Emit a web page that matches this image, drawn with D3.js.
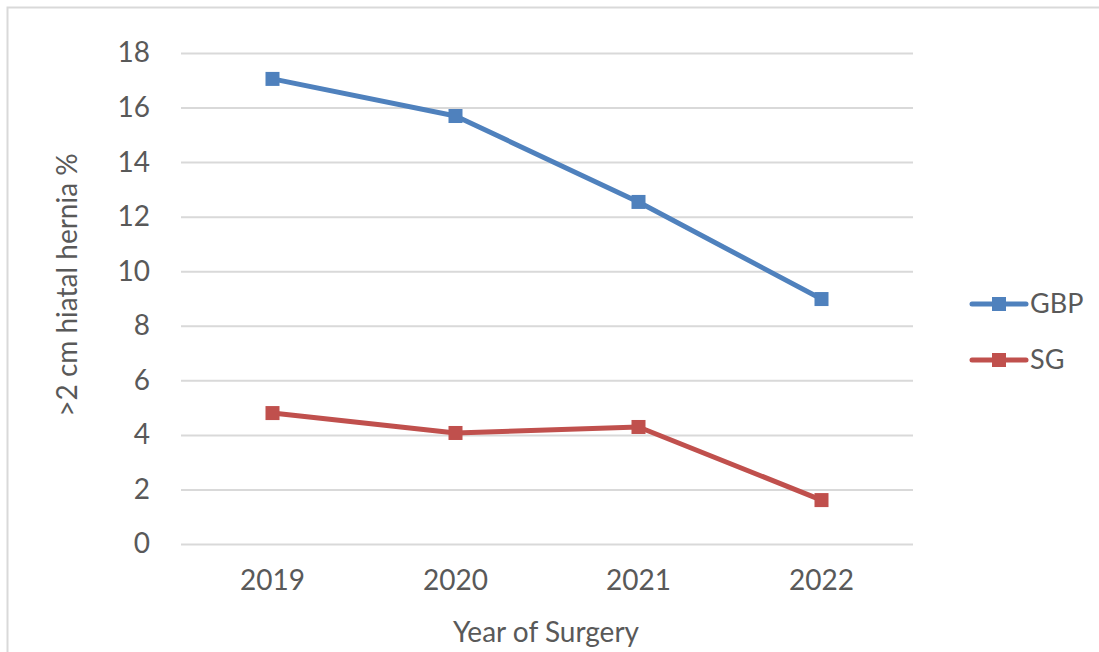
<!DOCTYPE html>
<html>
<head>
<meta charset="utf-8">
<script src="https://cdn.jsdelivr.net/npm/d3@7"></script>
<style>
  html, body { margin: 0; padding: 0; background: #fff; }
  svg { display: block; font-family: Lato, "Open Sans", sans-serif; }
</style>
</head>
<body>
<svg id="chart" width="1099" height="652"></svg>
<script>
// Share of patients with a >2 cm hiatal hernia, by year of surgery
const years = ["2019", "2020", "2021", "2022"];
const gbpValues = [17.05, 15.69, 12.54, 8.98];
const sgValues = [4.80, 4.07, 4.29, 1.61];
const seriesNames = ["GBP", "SG"];
const seriesColors = ["#4F81BD", "#C0504D"];
const yTicks = [0, 2, 4, 6, 8, 10, 12, 14, 16, 18];

const series = [
  { name: seriesNames[0], values: gbpValues, color: seriesColors[0] },
  { name: seriesNames[1], values: sgValues, color: seriesColors[1] }
];

const svg = d3.select("#chart");
const plot = { left: 181, right: 913, top: 53, bottom: 544 };
const fontSize = "28px";

// Outer chart frame
svg.append("rect")
  .attr("x", 7.5).attr("y", 7.5)
  .attr("width", 1200).attr("height", 700)
  .attr("fill", "none").attr("stroke", "#D9D9D9").attr("stroke-width", 2);

const x = d3.scaleBand().domain(years).range([plot.left, plot.right]);
const y = d3.scaleLinear().domain([0, 18]).range([plot.bottom, plot.top]);

// Horizontal gridlines + y tick labels
const yAxis = d3.axisLeft(y).tickValues(yTicks).tickSize(-(plot.right - plot.left)).tickPadding(31);
const gy = svg.append("g").attr("transform", `translate(${plot.left},0)`).call(yAxis);
gy.select(".domain").remove();
gy.selectAll(".tick line").attr("stroke", "#D9D9D9").attr("stroke-width", 2);
gy.selectAll(".tick text")
  .attr("fill", "#595959").style("font-size", fontSize)
  .attr("font-family", "Lato, 'Open Sans', sans-serif");

// x tick labels
const xAxis = d3.axisBottom(x).tickSize(0).tickPadding(26);
const gx = svg.append("g").attr("transform", `translate(0,${plot.bottom})`).call(xAxis);
gx.select(".domain").remove();
gx.selectAll(".tick text")
  .attr("fill", "#595959").style("font-size", fontSize)
  .attr("font-family", "Lato, 'Open Sans', sans-serif");

// Axis titles
svg.append("text")
  .attr("x", 546).attr("y", 642)
  .attr("text-anchor", "middle").attr("fill", "#595959")
  .style("font-size", fontSize).text("Year of Surgery");

svg.append("text")
  .attr("transform", "translate(77,285) rotate(-90)")
  .attr("text-anchor", "middle").attr("fill", "#595959")
  .style("font-size", fontSize).text(">2 cm hiatal hernia %");

// Series lines and square markers
const cx = d => x(d) + x.bandwidth() / 2;
const line = d3.line().x((v, i) => cx(years[i])).y(v => y(v));

series.forEach(s => {
  svg.append("path")
    .datum(s.values)
    .attr("d", line)
    .attr("fill", "none")
    .attr("stroke", s.color)
    .attr("stroke-width", 5)
    .attr("stroke-linejoin", "round")
    .attr("stroke-linecap", "round");
  svg.append("g").selectAll("rect")
    .data(s.values)
    .join("rect")
    .attr("x", (v, i) => cx(years[i]) - 7)
    .attr("y", v => y(v) - 7)
    .attr("width", 14).attr("height", 14)
    .attr("fill", s.color);
});

// Legend
const legend = svg.append("g");
series.forEach((s, i) => {
  const ly = 304 + i * 56;
  const g = legend.append("g").attr("transform", `translate(0,${ly})`);
  g.append("line")
    .attr("x1", 972).attr("x2", 1026).attr("y1", 0).attr("y2", 0)
    .attr("stroke", s.color).attr("stroke-width", 5).attr("stroke-linecap", "round");
  g.append("rect").attr("x", 992).attr("y", -7).attr("width", 14).attr("height", 14).attr("fill", s.color);
  g.append("text")
    .attr("x", 1030).attr("y", 0).attr("dy", "0.35em")
    .attr("fill", "#595959").style("font-size", "27px").text(s.name);
});
</script>
</body>
</html>
